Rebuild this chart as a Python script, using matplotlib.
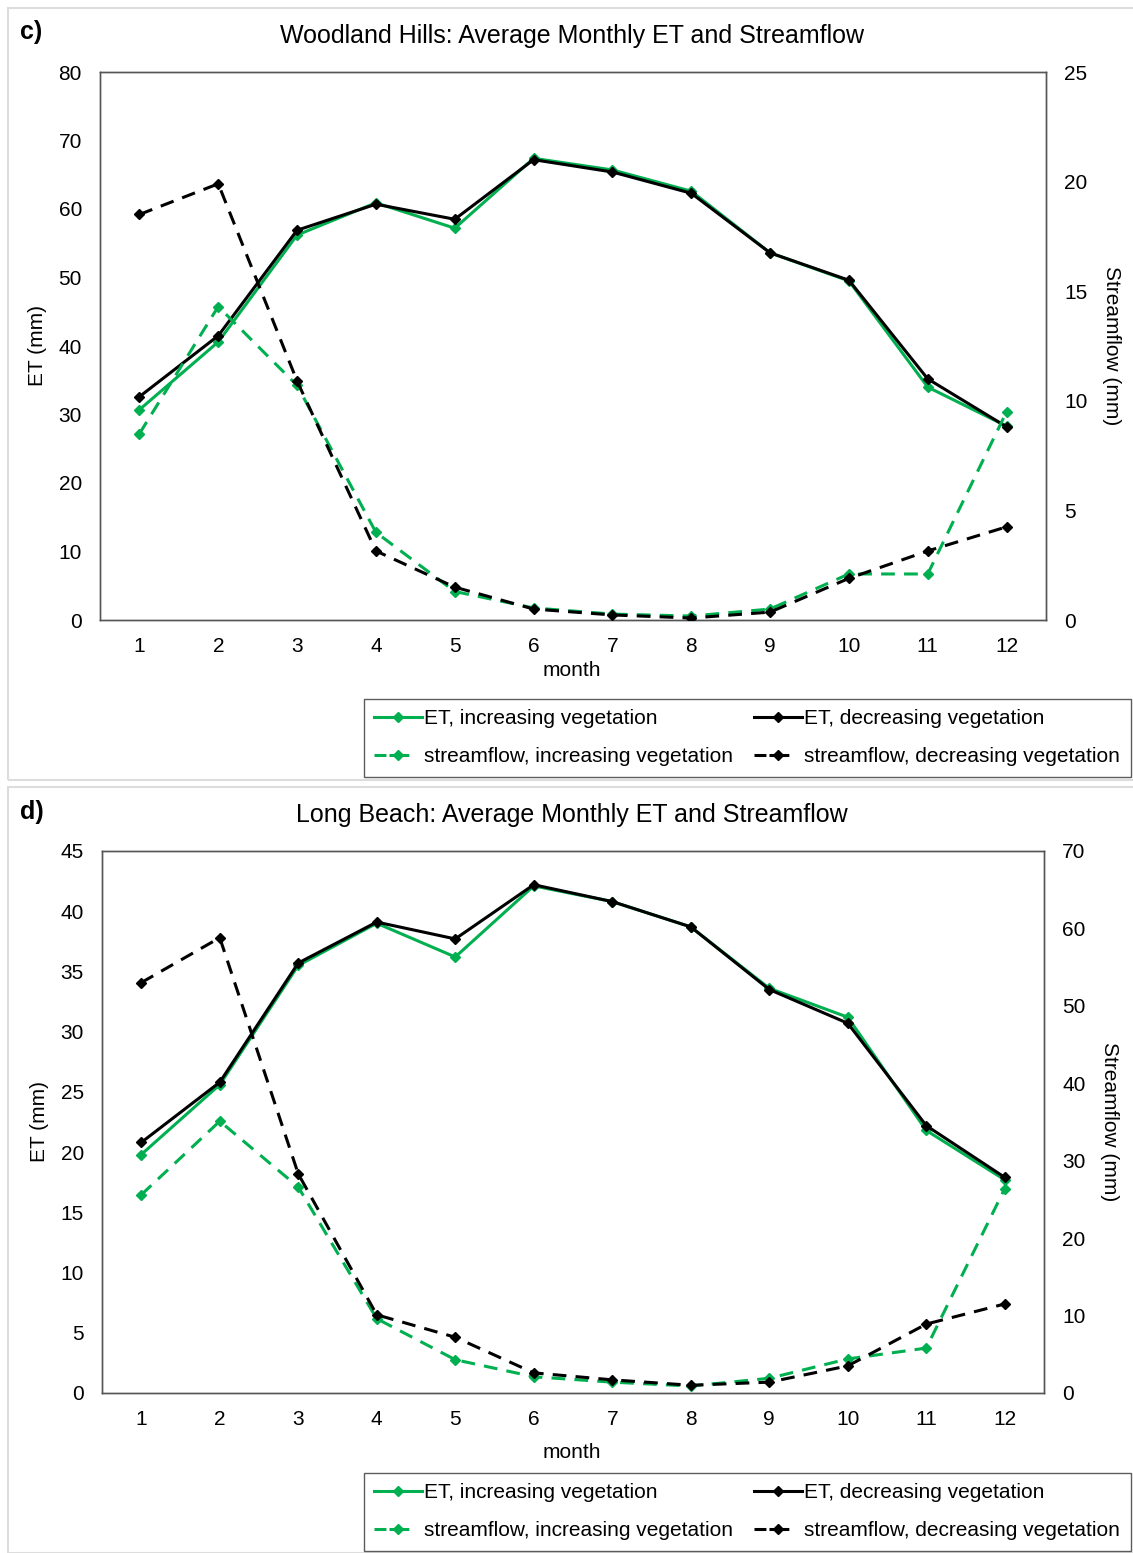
import matplotlib.pyplot as plt
from matplotlib.lines import Line2D
from matplotlib.patches import Rectangle

plt.rcParams['font.family'] = ['Liberation Sans', 'DejaVu Sans']

months = list(range(1, 13))

# Woodland Hills
wh_et_inc = [30.7, 40.6, 56.2, 60.9, 57.2, 67.4, 65.7, 62.6, 53.6, 49.5, 34.0, 28.3]
wh_et_dec = [32.6, 41.5, 56.9, 60.7, 58.5, 67.2, 65.4, 62.3, 53.6, 49.6, 35.2, 28.2]
wh_sf_inc = [8.5, 14.3, 10.7, 4.0, 1.3, 0.55, 0.27, 0.18, 0.5, 2.1, 2.1, 9.5]
wh_sf_dec = [18.5, 19.9, 10.9, 3.15, 1.5, 0.5, 0.23, 0.09, 0.36, 1.9, 3.15, 4.25]

# Long Beach
lb_et_inc = [19.8, 25.6, 35.5, 39.0, 36.2, 42.1, 40.8, 38.7, 33.6, 31.2, 21.8, 17.7]
lb_et_dec = [20.8, 25.8, 35.7, 39.1, 37.7, 42.2, 40.8, 38.7, 33.5, 30.7, 22.2, 17.9]
lb_sf_inc = [25.6, 35.1, 26.6, 9.6, 4.3, 2.1, 1.4, 0.9, 1.9, 4.4, 5.8, 26.4]
lb_sf_dec = [53.0, 58.8, 28.3, 10.1, 7.2, 2.6, 1.7, 1.0, 1.4, 3.5, 8.9, 11.5]

labels = ['ET, increasing vegetation', 'streamflow, increasing vegetation',
          'ET, decreasing vegetation', 'streamflow, decreasing vegetation']

GREEN = '#00B050'
DASH = (0, (4.5, 3))
LEG_DASH = (0, (3.9, 1.0, 6.5, 6.0))
FS = 15

fig = plt.figure(figsize=(11.33, 15.53), dpi=100)

# light gray panel frames
for y0, h in [(1 - 780 / 1553, 772 / 1553), (0.0, 766 / 1553)]:
    fig.add_artist(Rectangle((8 / 1133, y0), 1.2, h, transform=fig.transFigure,
                             fill=False, ec='#dddddd', lw=1.5))


def panel(rect, title, tag, tag_y, et_inc, et_dec, sf_inc, sf_dec,
          et_max, et_step, sf_max, sf_step, xlab_y, leg_y):
    ax = fig.add_axes(rect)
    ax2 = ax.twinx()
    kw = dict(marker='D', markersize=5, lw=2.2)
    ax.plot(months, et_inc, color=GREEN, **kw, zorder=3)
    ax.plot(months, et_dec, color='black', **kw, zorder=4)
    ax2.plot(months, sf_inc, color=GREEN, ls=DASH, **kw, zorder=3)
    ax2.plot(months, sf_dec, color='black', ls=DASH, **kw, zorder=4)

    ax.set_xlim(0.5, 12.5)
    ax.set_ylim(0, et_max)
    ax.set_yticks(range(0, et_max + 1, et_step))
    ax2.set_ylim(0, sf_max)
    ax2.set_yticks(range(0, sf_max + 1, sf_step))
    ax.set_xticks(months)
    for a in (ax, ax2):
        a.tick_params(length=0, labelsize=FS)
        for s in a.spines.values():
            s.set_color('#555555')
            s.set_linewidth(1.0)
    ax.tick_params(axis='y', pad=13)
    ax.tick_params(axis='x', pad=12)
    ax2.tick_params(axis='y', pad=13)
    ax.set_ylabel('ET (mm)', fontsize=FS, labelpad=8)
    ax2.set_ylabel('Streamflow (mm)', fontsize=FS, rotation=270, labelpad=24)
    fig.text(572 / 1133, xlab_y, 'month', ha='center', va='center', fontsize=FS)
    fig.text(572 / 1133, rect[1] + rect[3] + 36 / 1553, title, ha='center',
             va='center', fontsize=18)
    fig.text(20 / 1133, tag_y, tag, ha='left', va='center', fontsize=18,
             fontweight='bold')

    # legend keys drawn like the spreadsheet ones: "—◆—" and "-◆—"
    hk = dict(marker='D', markersize=5, lw=2.2)
    handles = [Line2D([], [], color=GREEN, **hk),
               Line2D([], [], color=GREEN, ls=LEG_DASH, **hk),
               Line2D([], [], color='black', **hk),
               Line2D([], [], color='black', ls=LEG_DASH, **hk)]
    leg = fig.legend(handles, labels, ncol=2, loc='upper left',
                     bbox_to_anchor=(364 / 1133, leg_y), borderaxespad=0,
                     fontsize=FS, frameon=True, fancybox=False, handlelength=2.3,
                     handletextpad=0.1, columnspacing=1.0, labelspacing=0.9,
                     borderpad=0.5)
    leg.get_frame().set_edgecolor('#333333')
    leg.get_frame().set_linewidth(1.0)
    return ax


panel([100 / 1133, 1 - 620 / 1553, 946 / 1133, 548 / 1553],
      'Woodland Hills: Average Monthly ET and Streamflow', 'c)', 1 - 32 / 1553,
      wh_et_inc, wh_et_dec, wh_sf_inc, wh_sf_dec, 80, 10, 25, 5,
      1 - 671 / 1553, 1 - 699 / 1553)

panel([102 / 1133, 1 - 1393 / 1553, 942 / 1133, 542 / 1553],
      'Long Beach: Average Monthly ET and Streamflow', 'd)', 1 - 812 / 1553,
      lb_et_inc, lb_et_dec, lb_sf_inc, lb_sf_dec, 45, 5, 70, 10,
      1 - 1453 / 1553, 1 - 1473 / 1553)

fig.savefig('out.png', dpi=100)
